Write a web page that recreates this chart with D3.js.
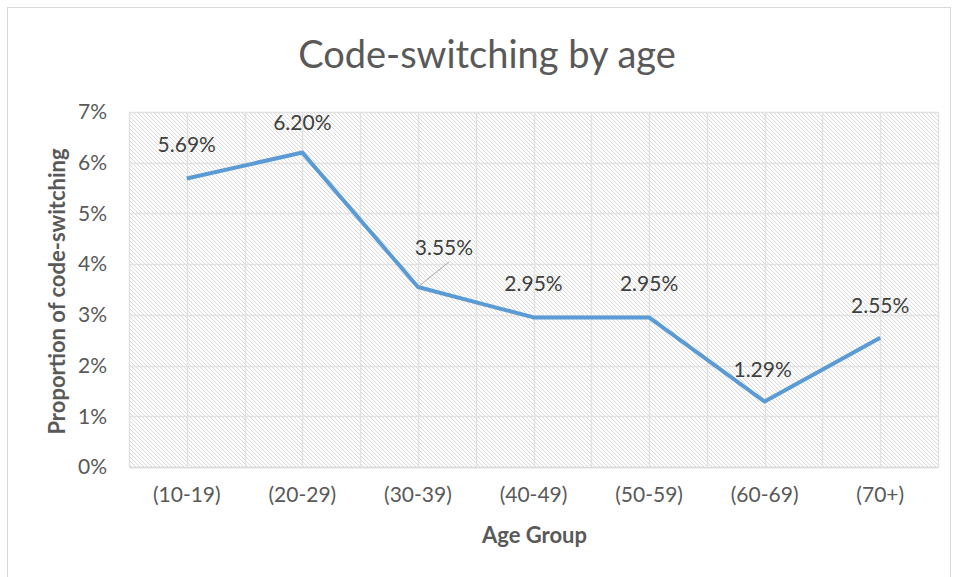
<!DOCTYPE html>
<html lang="en">
<head>
<meta charset="utf-8">
<title>Code-switching by age</title>
<script src="https://d3js.org/d3.v7.min.js"></script>
<style>
  body { margin: 0; background: #fff; }
  text { font-family: Lato, "Open Sans", sans-serif; }
</style>
</head>
<body>
<div id="chart"></div>
<script>
// data
var ageGroups = ["(10-19)", "(20-29)", "(30-39)", "(40-49)", "(50-59)", "(60-69)", "(70+)"];
var proportions = [0.0569, 0.0620, 0.0355, 0.0295, 0.0295, 0.0129, 0.0255];
var yTicks = [0, 0.01, 0.02, 0.03, 0.04, 0.05, 0.06, 0.07];

var W = 955, H = 577;
var margin = {left: 129, right: 17, top: 112, bottom: 110};
var innerW = W - margin.left - margin.right;
var innerH = H - margin.top - margin.bottom;

var svg = d3.select("#chart").append("svg")
    .attr("width", W).attr("height", H);

// hatch pattern for plot area
var defs = svg.append("defs");
var pat = defs.append("pattern")
    .attr("id", "hatch")
    .attr("patternUnits", "userSpaceOnUse")
    .attr("width", 4).attr("height", 4);
pat.append("rect").attr("width", 4).attr("height", 4).attr("fill", "#fff");
pat.append("path")
    .attr("d", "M-1,-1 L5,5 M-1,3 L1,5 M3,-1 L5,1")
    .attr("stroke", "#dadada").attr("stroke-width", 1);

// outer chart border
svg.append("rect")
    .attr("x", 7.5).attr("y", 7.5)
    .attr("width", 943).attr("height", 575)
    .attr("fill", "none").attr("stroke", "#d9d9d9");

var g = svg.append("g").attr("transform", "translate(" + margin.left + "," + margin.top + ")");

var x = d3.scaleBand().domain(ageGroups).range([0, innerW]);
var y = d3.scaleLinear().domain([0, 0.07]).range([innerH, 0]);

g.append("rect").attr("width", innerW).attr("height", innerH).attr("fill", "url(#hatch)");

// gridlines
g.selectAll(".hgrid").data(yTicks).enter().append("line")
    .attr("x1", 0).attr("x2", innerW)
    .attr("y1", d => Math.round(y(d)) + 0.5).attr("y2", d => Math.round(y(d)) + 0.5)
    .attr("stroke", "#e2e2e2").attr("stroke-width", 1.5);

var vLines = [];
ageGroups.forEach(function(a) { vLines.push(x(a)); vLines.push(x(a) + x.bandwidth() / 2); });
vLines.push(innerW);
g.selectAll(".vgrid").data(vLines).enter().append("line")
    .attr("x1", d => Math.round(d) + 0.5).attr("x2", d => Math.round(d) + 0.5)
    .attr("y1", 0).attr("y2", innerH)
    .attr("stroke", "#e2e2e2").attr("stroke-width", 1.5);

// axes
var yAxis = g.append("g").call(d3.axisLeft(y).tickValues(yTicks).tickFormat(d3.format(".0%")).tickSize(0).tickPadding(22));
yAxis.select(".domain").remove();
yAxis.selectAll("text").attr("font-size", 21).attr("fill", "#595959").style("font-family", "Lato, sans-serif");

var xAxis = g.append("g").attr("transform", "translate(0," + innerH + ")")
    .call(d3.axisBottom(x).tickSize(0).tickPadding(20));
xAxis.select(".domain").attr("stroke", "#d9d9d9").attr("stroke-width", 1.5);
xAxis.selectAll("text").attr("font-size", 21).attr("fill", "#595959").style("font-family", "Lato, sans-serif");

// line
var cx = d => x(d) + x.bandwidth() / 2;
var pts = ageGroups.map((a, i) => [cx(a), y(proportions[i])]);
g.append("path")
    .attr("d", d3.line()(pts))
    .attr("fill", "none").attr("stroke", "#5b9bd5")
    .attr("stroke-width", 4).attr("stroke-linejoin", "round");

// data labels (3.55% is pulled out with a leader line)
var labelOffsets = [[0, -26], [0, -23], [26, -32], [0, -26], [0, -26], [-2, -25], [0, -25]];
g.append("line")
    .attr("x1", pts[2][0]).attr("y1", pts[2][1])
    .attr("x2", pts[2][0] + 31).attr("y2", pts[2][1] - 25)
    .attr("stroke", "#a6a6a6").attr("stroke-width", 1);
g.selectAll(".lbl").data(proportions).enter().append("text")
    .attr("x", (d, i) => pts[i][0] + labelOffsets[i][0])
    .attr("y", (d, i) => pts[i][1] + labelOffsets[i][1])
    .attr("text-anchor", "middle")
    .attr("font-size", 21).attr("fill", "#404040")
    .text(d => d3.format(".2%")(d));

// titles
svg.append("text").attr("x", 487).attr("y", 68)
    .attr("text-anchor", "middle").attr("font-size", 38).attr("fill", "#595959")
    .text("Code-switching by age");
svg.append("text").attr("x", margin.left + innerW / 2 + 1).attr("y", 543)
    .attr("text-anchor", "middle").attr("font-size", 22).attr("font-weight", "bold").attr("fill", "#595959")
    .text("Age Group");
svg.append("text")
    .attr("transform", "translate(65," + (margin.top + innerH / 2 + 2) + ") rotate(-90)")
    .attr("text-anchor", "middle").attr("font-size", 22).attr("font-weight", "bold").attr("fill", "#595959")
    .text("Proportion of code-switching");
</script>
</body>
</html>
